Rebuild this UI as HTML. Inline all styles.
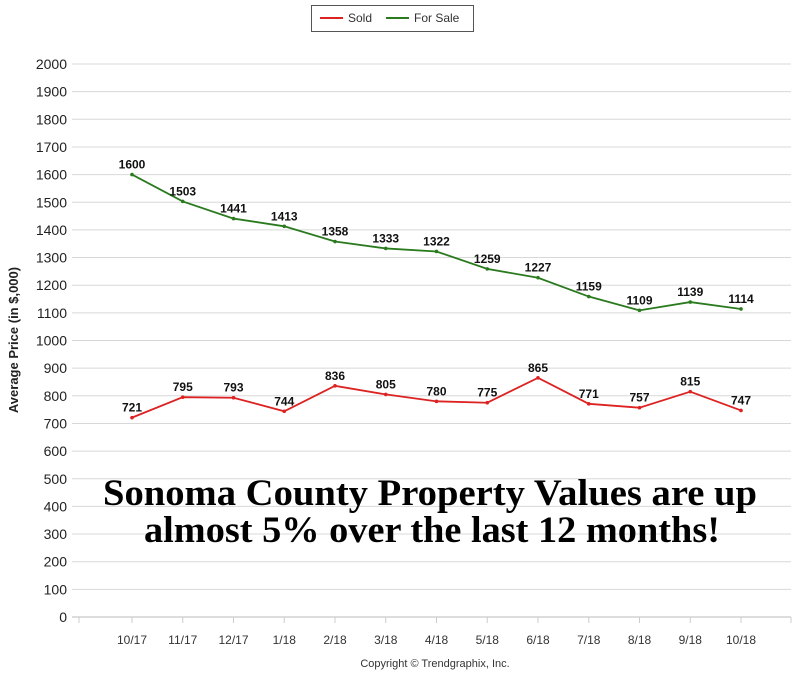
<!DOCTYPE html>
<html><head><meta charset="utf-8"><style>
body{margin:0;background:#fff;}
svg{display:block;font-family:"Liberation Sans",Arial,sans-serif;}
</style></head><body>
<svg id="chart" width="800" height="675" viewBox="0 0 800 675">
  <g>
    <rect x="311.5" y="5.5" width="162" height="26" fill="#fff" stroke="#555"/>
    <line x1="320" y1="18" x2="343" y2="18" stroke="#d22" stroke-width="2"/>
    <text x="348" y="22" font-size="12" fill="#333">Sold</text>
    <line x1="386" y1="18" x2="409" y2="18" stroke="#2a7a1e" stroke-width="2"/>
    <text x="414" y="22" font-size="12" fill="#333">For Sale</text>
  </g>
  <g id="grid"></g>
  <g id="yticks"></g>
  <g id="xticks"></g>
  <g id="series"></g>
  <text transform="translate(18,340) rotate(-90)" text-anchor="middle" font-size="13" font-weight="bold" fill="#222">Average Price (in $,000)</text>
  <text x="435" y="667" text-anchor="middle" font-size="11" fill="#333">Copyright © Trendgraphix, Inc.</text>
  <g font-family="'Liberation Serif','Times New Roman',serif" font-weight="bold" font-size="37" fill="#000">
    <text x="430" y="505" text-anchor="middle" textLength="654" lengthAdjust="spacingAndGlyphs">Sonoma County Property Values are up</text>
    <text x="432" y="542" text-anchor="middle" textLength="576" lengthAdjust="spacingAndGlyphs">almost 5% over the last 12 months!</text>
  </g>
</svg>
<script>
const categories=["10/17","11/17","12/17","1/18","2/18","3/18","4/18","5/18","6/18","7/18","8/18","9/18","10/18"];
const soldValues=[721,795,793,744,836,805,780,775,865,771,757,815,747];
const forSaleValues=[1600,1503,1441,1413,1358,1333,1322,1259,1227,1159,1109,1139,1114];
const yTicks=[0,100,200,300,400,500,600,700,800,900,1000,1100,1200,1300,1400,1500,1600,1700,1800,1900,2000];
const NS="http://www.w3.org/2000/svg";
const y0=617,yTop=64,yMax=2000;
function yScale(v){return y0-(v/yMax)*(y0-yTop);}
function xScale(i){return 132+i*50.75;}
function mk(tag,attrs,parent){const e=document.createElementNS(NS,tag);for(const k in attrs)e.setAttribute(k,attrs[k]);parent.appendChild(e);return e;}
const grid=document.getElementById('grid'),yt=document.getElementById('yticks'),xt=document.getElementById('xticks'),ser=document.getElementById('series');
yTicks.forEach(v=>{
  const y=yScale(v);
  const l=mk('line',{x1:72,x2:791,y1:y,y2:y,stroke:v===0?'#bbb':'#d8d8d8','stroke-width':1},grid);
  
  
  const t=mk('text',{x:67,y:y+5,'text-anchor':'end','font-size':14,fill:'#222'},yt);
  t.textContent=v;
  
  
});
[79,791].forEach(x=>{const l=mk('line',{x1:x,x2:x,y1:y0,y2:y0+6,stroke:'#ccc'},xt);

});
categories.forEach((c,i)=>{
  const x=xScale(i);
  const l=mk('line',{x1:x,x2:x,y1:y0,y2:y0+6,stroke:'#ccc'},xt);
  
  
  const t=mk('text',{x:x,y:y0+27,'text-anchor':'middle','font-size':12,fill:'#333'},xt);
  t.textContent=c;
  
  
});
function drawSeries(vals,color,name){
  const pts=vals.map((v,i)=>xScale(i)+','+yScale(v)).join(' ');
  const p=mk('polyline',{points:pts,fill:'none',stroke:color,'stroke-width':1.8},ser);
  
  
  vals.forEach((v,i)=>{
    const c=mk('circle',{cx:xScale(i),cy:yScale(v),r:1.8,fill:color},ser);
    
    
    const t=mk('text',{x:xScale(i),y:yScale(v)-6,'text-anchor':'middle','font-size':12,'font-weight':'bold',fill:'#111'},ser);
    t.textContent=v;
    
    
  });
}
drawSeries(forSaleValues,'#2a7a1e','for-sale');
drawSeries(soldValues,'#d22','sold');
</script>
</body></html>
